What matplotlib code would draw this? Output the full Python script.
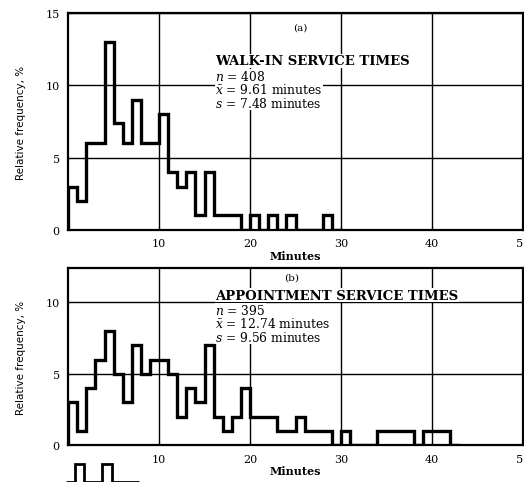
import matplotlib.pyplot as plt
import numpy as np

plt.rcParams['font.family'] = 'DejaVu Serif'
plt.rcParams['mathtext.fontset'] = 'dejavuserif'

# relative frequency (%) per 1-minute bin, starting at 0 minutes
walkin_freq = [3, 2, 6, 6, 13, 7.4, 6, 9, 6, 6, 8, 4, 3, 4, 1, 4, 1, 1, 1, 0,
               1, 0, 1, 0, 1, 0, 0, 0, 1, 0]
appt_freq = [3, 1, 4, 6, 8, 5, 3, 7, 5, 6, 6, 5, 2, 4, 3, 7, 2, 1, 2, 4,
             2, 2, 2, 1, 1, 2, 1, 1, 1, 0, 1, 0, 0, 0, 1, 1, 1, 1, 0, 1,
             1, 1, 0]
# top of the next (cropped) panel peeking in at the bottom of the scan
next_freq = [0, 1, 0, 0, 1, 0, 0, 0]

walkin_stats = ['WALK-IN SERVICE TIMES', r'$n$ = 408',
                r'$\bar{x}$ = 9.61 minutes', r'$s$ = 7.48 minutes']
appt_stats = ['APPOINTMENT SERVICE TIMES', r'$n$ = 395',
              r'$\bar{x}$ = 12.74 minutes', r'$s$ = 9.56 minutes']

fig = plt.figure(figsize=(5.24, 4.85), dpi=100)

ax1 = fig.add_axes([0.130, 0.524, 0.868, 0.447])
ax2 = fig.add_axes([0.130, 0.080, 0.868, 0.365])
ax3 = fig.add_axes([0.126, 0.004, 0.868, 0.040])


def draw_panel(ax, freq, ymax, yticks, tag, tag_pos, stats, head_y):
    edges = np.arange(len(freq) + 1)
    ax.stairs(freq, edges, baseline=0, color='black', linewidth=2.4, zorder=3)
    ax.set_xlim(0, 50)
    ax.set_ylim(0, ymax)
    ax.set_xticks([10, 20, 30, 40, 50])
    ax.set_yticks(yticks)
    ax.grid(True, color='black', linewidth=1.0)
    ax.tick_params(direction='in', length=3, labelsize=8, pad=6)
    for s in ax.spines.values():
        s.set_linewidth(1.6)
    ax.set_xlabel('Minutes', fontsize=8, fontweight='bold', labelpad=1)
    ax.set_ylabel('Relative frequency, %', fontsize=7.5, labelpad=14,
                  fontfamily='DejaVu Sans')
    ax.text(tag_pos[0], tag_pos[1], tag, fontsize=7.5, ha='center', va='center')
    ax.text(16.2, head_y, stats[0], fontsize=9.5, fontweight='bold',
            va='center', bbox=dict(facecolor='white', edgecolor='none', pad=0.5))
    for i, line in enumerate(stats[1:]):
        ax.text(16.2, head_y - 1.05 - 0.92 * i, line, fontsize=8.8,
                va='center', bbox=dict(facecolor='white', edgecolor='none', pad=0.2))


draw_panel(ax1, walkin_freq, 15, [0, 5, 10, 15], '(a)', (25.5, 14.0),
           walkin_stats, 11.7)
draw_panel(ax2, appt_freq, 12.4, [0, 5, 10], '(b)', (24.6, 11.8),
           appt_stats, 10.5)

ax3.stairs(next_freq, np.arange(len(next_freq) + 1), baseline=0,
           color='black', linewidth=2.0)
ax3.set_xlim(0, 50)
ax3.set_ylim(0, 1.1)
ax3.axis('off')

fig.savefig('out.png', dpi=100)
